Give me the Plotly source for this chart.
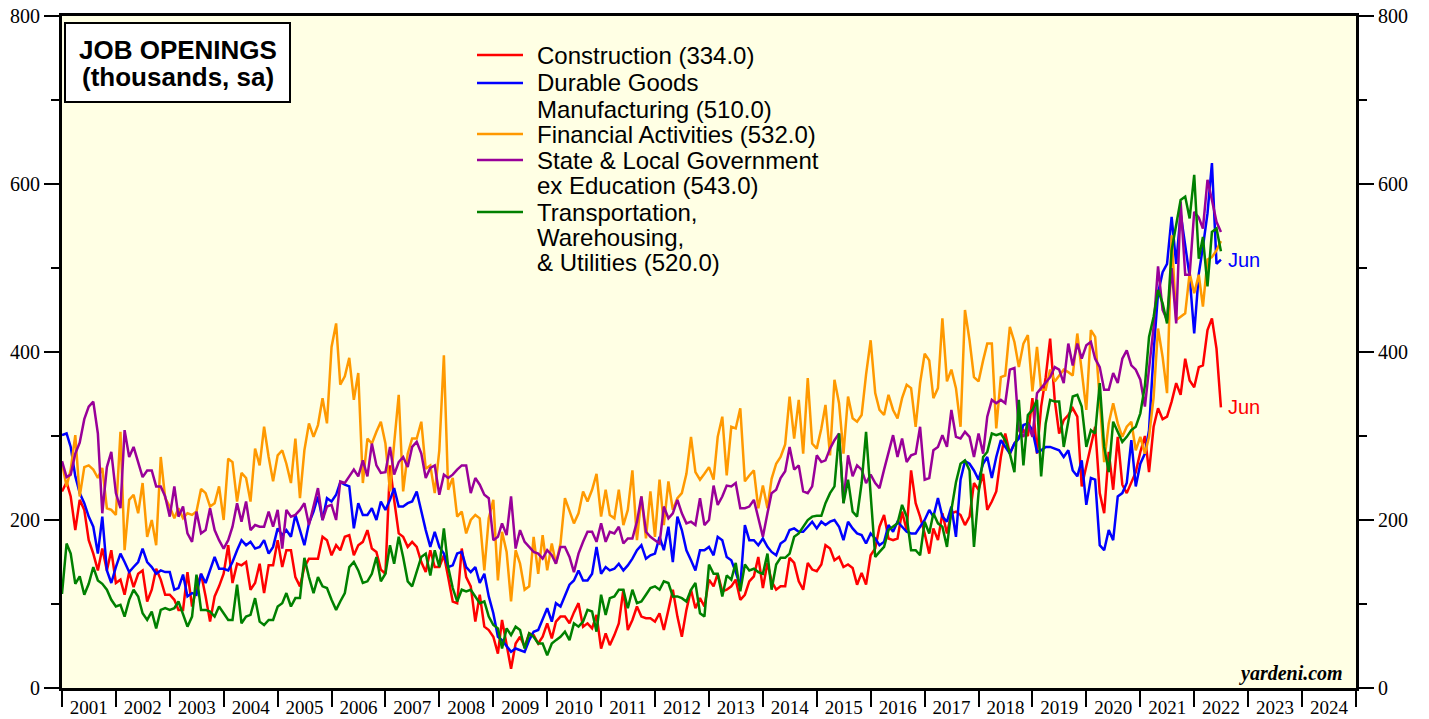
import plotly.graph_objects as go
import pandas as pd

# Monthly values, Dec 2000 .. Jun 2022 (thousands, sa)
construction = [234,
    245, 228, 188, 224, 212, 176, 160, 140, 166, 140, 164, 125,
    129, 111, 138, 120, 136, 140, 103, 117, 142, 129, 111, 111,
    105, 93, 93, 138, 97, 119, 136, 109, 79, 109, 121, 136,
    170, 125, 148, 146, 150, 117, 125, 148, 113, 146, 146, 176,
    144, 164, 164, 132, 121, 144, 154, 154, 154, 180, 176, 158,
    170, 164, 180, 182, 158, 170, 174, 188, 166, 162, 141, 136,
    265, 224, 184, 180, 168, 174, 168, 150, 138, 164, 144, 144,
    158, 132, 103, 101, 166, 132, 121, 79, 111, 73, 69, 61,
    41, 81, 53, 23, 53, 61, 49, 65, 63, 53, 61, 77,
    59, 79, 85, 85, 77, 90, 101, 73, 77, 71, 87, 47,
    65, 51, 63, 77, 117, 69, 81, 97, 85, 83, 83, 79,
    89, 69, 93, 117, 85, 61, 93, 117, 95, 107, 97, 129,
    121, 136, 115, 117, 121, 129, 105, 111, 127, 133, 156, 119,
    149, 127, 117, 121, 121, 155, 149, 127, 117, 149, 141, 139,
    147, 170, 166, 152, 156, 144, 147, 143, 123, 137, 123, 158,
    166, 192, 206, 178, 176, 178, 210, 188, 259, 220, 204, 184,
    160, 190, 176, 208, 184, 208, 210, 206, 194, 204, 244, 236,
    255, 212, 222, 234, 275, 303, 279, 291, 299, 307, 300, 345,
    279, 335, 370, 416, 343, 303, 319, 325, 333, 323, 240, 264,
    287, 311, 232, 208, 281, 236, 299, 242, 232, 244, 257, 281,
    300, 257, 311, 333, 320, 323, 341, 363, 349, 392, 366, 358,
    382, 384, 426, 440, 404, 334]

durable = [301,
    303, 287, 252, 232, 220, 204, 192, 160, 204, 140, 125, 144,
    160, 150, 138, 144, 150, 166, 150, 144, 136, 140, 138, 138,
    117, 119, 135, 109, 113, 111, 136, 125, 140, 156, 142, 142,
    140, 150, 164, 176, 170, 174, 166, 168, 176, 160, 168, 190,
    182, 188, 180, 206, 188, 170, 196, 210, 228, 200, 226, 222,
    230, 245, 242, 240, 190, 220, 206, 206, 214, 200, 222, 212,
    224, 238, 216, 216, 220, 222, 234, 210, 188, 168, 186, 168,
    160, 144, 146, 160, 162, 144, 138, 144, 125, 136, 109, 89,
    61, 57, 50, 43, 47, 45, 43, 57, 67, 69, 81, 95,
    79, 101, 97, 109, 123, 128, 140, 128, 128, 136, 168, 136,
    144, 140, 142, 148, 140, 146, 154, 164, 170, 154, 158, 160,
    180, 164, 192, 150, 204, 188, 164, 152, 140, 164, 164, 168,
    158, 180, 176, 156, 152, 138, 121, 194, 176, 176, 170, 178,
    168, 162, 158, 172, 176, 188, 190, 186, 186, 192, 198, 190,
    198, 194, 198, 200, 192, 176, 198, 190, 184, 182, 172, 184,
    178, 170, 174, 194, 186, 198, 192, 186, 184, 184, 192, 200,
    212, 204, 226, 204, 198, 216, 180, 248, 270, 267, 259, 248,
    267, 275, 250, 275, 295, 287, 279, 291, 297, 313, 315, 307,
    281, 283, 287, 287, 285, 283, 275, 283, 259, 252, 271, 218,
    250, 248, 170, 164, 188, 176, 228, 232, 244, 295, 240, 267,
    279, 307, 400, 470, 495, 505, 561, 505, 565, 525, 490, 422,
    493, 525, 565, 625, 505, 510]

financial = [268,
    240, 260, 301, 228, 263, 265, 260, 250, 262, 214, 212, 206,
    305, 164, 224, 230, 208, 244, 180, 200, 170, 275, 226, 216,
    202, 214, 202, 208, 206, 210, 237, 232, 216, 220, 240, 200,
    273, 269, 222, 256, 250, 222, 285, 265, 311, 275, 246, 277,
    283, 267, 244, 297, 226, 283, 315, 299, 313, 345, 315, 406,
    434, 361, 371, 393, 343, 375, 244, 297, 291, 305, 317, 291,
    234, 291, 349, 234, 279, 297, 297, 317, 261, 265, 232, 283,
    396, 236, 250, 204, 210, 184, 200, 206, 202, 140, 202, 224,
    128, 186, 162, 103, 164, 148, 117, 121, 180, 136, 182, 140,
    172, 148, 172, 226, 212, 196, 208, 234, 222, 236, 255, 204,
    236, 206, 202, 236, 194, 212, 259, 176, 228, 178, 234, 180,
    248, 194, 246, 212, 226, 232, 255, 299, 257, 248, 255, 263,
    248, 299, 323, 253, 311, 309, 333, 246, 253, 259, 214, 241,
    214, 249, 267, 275, 290, 347, 297, 343, 279, 369, 291, 285,
    309, 337, 277, 367, 339, 279, 347, 321, 317, 325, 373, 414,
    351, 331, 325, 349, 331, 321, 345, 361, 357, 311, 363, 398,
    390, 345, 357, 440, 365, 379, 357, 311, 450, 414, 370, 365,
    390, 410, 410, 309, 370, 372, 430, 412, 382, 410, 420, 353,
    406, 355, 355, 379, 365, 372, 379, 376, 372, 422, 375, 331,
    426, 418, 343, 269, 315, 339, 315, 299, 311, 317, 283, 299,
    279, 299, 346, 428, 394, 351, 539, 438, 442, 446, 494, 470,
    492, 454, 510, 513, 521, 532]

state_local = [270,
    251, 254, 279, 292, 320, 335, 341, 303, 208, 263, 281, 232,
    214, 307, 275, 287, 267, 251, 259, 259, 240, 240, 228, 204,
    240, 204, 216, 184, 174, 210, 184, 188, 214, 188, 176, 166,
    176, 192, 220, 198, 222, 188, 194, 192, 192, 210, 192, 212,
    166, 212, 204, 206, 212, 220, 194, 215, 238, 200, 216, 218,
    200, 246, 244, 252, 260, 252, 271, 252, 291, 265, 256, 257,
    287, 254, 269, 275, 263, 287, 293, 279, 250, 262, 265, 230,
    254, 250, 254, 260, 265, 265, 232, 250, 242, 230, 226, 176,
    180, 196, 182, 228, 166, 188, 174, 168, 162, 160, 154, 164,
    158, 148, 168, 168, 156, 138, 160, 174, 186, 186, 174, 196,
    174, 186, 184, 192, 172, 178, 178, 198, 228, 186, 180, 176,
    172, 216, 202, 208, 224, 208, 196, 198, 194, 226, 194, 200,
    241, 218, 228, 241, 240, 244, 214, 214, 216, 224, 202, 180,
    208, 232, 236, 250, 258, 287, 260, 265, 234, 232, 240, 277,
    269, 271, 285, 295, 303, 220, 277, 252, 265, 260, 244, 254,
    244, 238, 260, 279, 301, 275, 297, 269, 277, 279, 311, 248,
    250, 283, 287, 301, 287, 331, 299, 297, 305, 299, 275, 303,
    279, 323, 343, 339, 343, 339, 379, 381, 307, 299, 315, 299,
    351, 357, 363, 370, 382, 379, 363, 410, 384, 410, 392, 408,
    412, 392, 382, 355, 355, 375, 363, 392, 402, 384, 379, 367,
    335, 382, 430, 502, 450, 438, 500, 434, 579, 492, 492, 567,
    560, 547, 605, 581, 555, 543]

transportation = [112,
    172, 160, 124, 133, 111, 124, 144, 128, 124, 117, 105, 97,
    99, 85, 105, 117, 109, 89, 81, 91, 71, 93, 95, 93,
    95, 103, 89, 73, 85, 135, 93, 93, 91, 85, 97, 89,
    81, 81, 123, 77, 85, 87, 107, 79, 75, 81, 81, 97,
    101, 113, 97, 107, 107, 155, 132, 113, 132, 121, 119, 105,
    93, 103, 113, 144, 150, 140, 125, 127, 136, 156, 127, 136,
    170, 148, 180, 156, 127, 121, 140, 156, 160, 134, 164, 144,
    190, 144, 119, 103, 117, 115, 117, 109, 101, 103, 85, 75,
    71, 47, 71, 63, 73, 69, 47, 65, 61, 53, 53, 39,
    53, 57, 61, 67, 57, 77, 73, 79, 93, 91, 67, 111,
    87, 107, 109, 117, 117, 95, 117, 101, 103, 111, 119, 121,
    117, 127, 125, 109, 109, 107, 103, 117, 125, 89, 85, 147,
    136, 136, 109, 134, 129, 149, 115, 147, 140, 142, 138, 136,
    160, 117, 147, 155, 155, 160, 180, 184, 192, 200, 204, 205,
    205, 220, 232, 240, 303, 220, 248, 210, 204, 244, 305, 224,
    156, 162, 168, 188, 192, 196, 218, 204, 164, 164, 158, 198,
    184, 208, 196, 192, 168, 212, 245, 267, 271, 259, 168, 232,
    275, 281, 303, 301, 303, 295, 279, 257, 343, 265, 325, 331,
    343, 252, 315, 343, 341, 341, 287, 319, 347, 349, 335, 287,
    307, 303, 363, 287, 257, 317, 305, 293, 299, 307, 311, 327,
    360, 418, 442, 474, 458, 434, 521, 551, 581, 585, 559, 611,
    511, 537, 478, 543, 547, 520]

year_labels = [str(y) for y in range(2001, 2025)]
series_labels = [["Construction"], ["Durable Goods", "Manufacturing"], ["Financial Activities"],
                 ["State & Local Government", "ex Education"],
                 ["Transportation,", "Warehousing,", "& Utilities"]]
series_colors = ["#FF0000", "#0000FF", "#FF9900", "#990099", "#008000"]
series_values = [construction, durable, financial, state_local, transportation]

dates = pd.date_range("2001-01-01", periods=len(construction), freq="MS")

# ---- layout geometry (pixels) ----
W, H = 1429, 719
L, R, T, B = 62, 73, 16, 31
PW, PH = W - L - R, H - T - B


def px(x):
    return (x - L) / PW


def py(y):
    return 1 - (y - T) / PH


serif = "Liberation Serif"
sans = "Liberation Sans"

fig = go.Figure()
for lab, vals, col in zip(series_labels, series_values, series_colors):
    fig.add_trace(go.Scatter(x=dates, y=vals, mode="lines", name=" ".join(lab),
                             line=dict(color=col, width=2.5), showlegend=False))
fig.add_trace(go.Scatter(x=[dates[0]], y=[None], yaxis="y2", showlegend=False,
                         hoverinfo="skip", mode="lines"))

shapes = []
annotations = []

# custom legend (line sample + text lines)
legend_line_y = [55, 83, 134, 160, 212]
legend_text_y = [[55], [83, 109], [134], [160, 185], [212, 237, 262]]
for lab, vals, col, ly, tys in zip(series_labels, series_values, series_colors,
                                   legend_line_y, legend_text_y):
    shapes.append(dict(type="line", xref="paper", yref="paper", x0=px(477), x1=px(523),
                       y0=py(ly), y1=py(ly), line=dict(color=col, width=2.5)))
    for i, (txt, ty) in enumerate(zip(lab, tys)):
        if i == len(lab) - 1:
            txt = f"{txt} ({vals[-1]:.1f})"
        annotations.append(dict(xref="paper", yref="paper", x=px(535), y=py(ty),
                                xanchor="left", yanchor="middle", text=txt, showarrow=False,
                                font=dict(family=sans, size=24, color="black")))

# title box
shapes.append(dict(type="rect", xref="paper", yref="paper", x0=px(65), x1=px(290),
                   y0=py(102), y1=py(23), fillcolor="white", line=dict(color="black", width=2),
                   layer="above"))
for txt, ty in [("JOB OPENINGS", 50), ("(thousands, sa)", 77)]:
    annotations.append(dict(xref="paper", yref="paper", x=px(177.5), y=py(ty),
                            xanchor="center", yanchor="middle", text=f"<b>{txt}</b>",
                            showarrow=False, font=dict(family=sans, size=26, color="black")))

annotations.append(dict(xref="paper", yref="paper", x=px(1345), y=py(673), xanchor="right",
                        yanchor="middle", text="<b><i>yardeni.com</i></b>", showarrow=False,
                        font=dict(family=serif, size=20, color="black")))
for vals, col in [(construction, "#FF0000"), (durable, "#0000FF")]:
    annotations.append(dict(x=dates[-1] + pd.Timedelta(days=35), y=vals[-1], xanchor="left",
                            yanchor="middle", text="Jun", showarrow=False,
                            font=dict(family=sans, size=20, color=col)))

axis_y = dict(range=[0, 800], tick0=0, dtick=200, ticks="outside", ticklen=15, tickwidth=2,
              tickcolor="black", tickfont=dict(family=serif, size=20, color="black"),
              minor=dict(dtick=100, tick0=0, ticks="outside", ticklen=8, tickwidth=2,
                         tickcolor="black", showgrid=False),
              showline=True, linewidth=3, linecolor="black", showgrid=False, zeroline=False,
              automargin=False)

fig.update_layout(
    width=W, height=H,
    margin=dict(l=L, r=R, t=T, b=B, pad=0, autoexpand=False),
    paper_bgcolor="white", plot_bgcolor="#FFFFE4",
    showlegend=False,
    xaxis=dict(range=["2001-01-01", "2025-01-01"],
               tickvals=[f"{y}-07-02" for y in year_labels], ticktext=year_labels,
               ticks="", tickfont=dict(family=serif, size=19, color="black"),
               minor=dict(dtick="M12", tick0="2001-01-01", ticks="outside", ticklen=16,
                          tickwidth=2, tickcolor="black", showgrid=False),
               showline=True, linewidth=3, linecolor="black", mirror=True,
               showgrid=False, zeroline=False, automargin=False),
    yaxis=dict(**axis_y, side="left", mirror=True),
    yaxis2=dict(**axis_y, side="right", overlaying="y", anchor="x"),
    shapes=shapes,
    annotations=annotations,
)

fig.write_html("out.html", config={"displayModeBar": False},
               post_script="document.body.style.margin='0';document.body.style.overflow='hidden';")
